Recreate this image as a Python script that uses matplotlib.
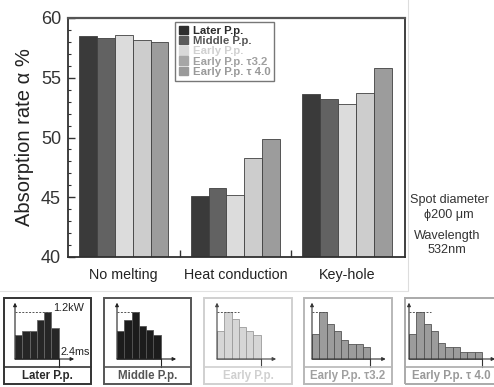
import matplotlib
matplotlib.use("Agg")
import matplotlib.pyplot as plt
from matplotlib.patches import Rectangle, Patch
from matplotlib.lines import Line2D
from matplotlib.ticker import MultipleLocator, FixedLocator
import numpy as np

plt.rcParams['font.family'] = ['Liberation Sans', 'DejaVu Sans']

# ---------------- data ----------------
categories = ["No melting", "Heat conduction", "Key-hole"]
series_names = ["Later P.p.", "Middle P.p.", "Early P.p.", "Early P.p. τ3.2", "Early P.p. τ 4.0"]
later = [58.5, 45.1, 53.6]
middle = [58.3, 45.8, 53.2]
early = [58.55, 45.2, 52.8]
tau32 = [58.2, 48.3, 53.75]
tau40 = [58.0, 49.9, 55.85]
yticks = [40, 45, 50, 55, 60]

# pulse shapes (kW per 0.4 ms step)
step_ms = 0.4
pulse_later = [0.61, 0.71, 0.71, 0.99, 1.2, 0.80]
pulse_middle = [0.71, 1.01, 1.2, 0.85, 0.74, 0.62]
pulse_early = [0.71, 1.2, 1.02, 0.82, 0.71, 0.62]
pulse_tau32 = [0.63, 1.2, 0.91, 0.73, 0.49, 0.38, 0.38, 0.31]
pulse_tau40 = [0.63, 1.2, 0.91, 0.71, 0.40, 0.32, 0.32, 0.19, 0.19, 0.19]
peak_kw = 1.2

W, H = 494, 387
fig = plt.figure(figsize=(W / 100, H / 100), dpi=100)


def fx(px):
    return px / W


def fy(py):
    return 1 - py / H


# ---------------- main chart ----------------
ax = fig.add_axes([fx(68), fy(257), fx(405) - fx(68), fy(18) - fy(257)])
series = [later, middle, early, tau32, tau40]
bar_colors = ["#3a3a3a", "#626262", "#dcdcdc", "#cdcdcd", "#9c9c9c"]
legend_colors = ["#2e2e2e", "#5a5a5a", "#d8d8d8", "#a6a6a6", "#9a9a9a"]
text_colors = ["#2a2a2a", "#555555", "#d0d0d0", "#a0a0a0", "#999999"]
x = np.arange(len(categories))
bw = 0.16
for i, (vals, c) in enumerate(zip(series, bar_colors)):
    ax.bar(x + (i - 2) * bw, vals, width=bw, color=c, edgecolor="#404040",
           linewidth=0.6, zorder=2)

ax.set_ylim(40, 60)
ax.set_xlim(-0.5, 2.52)
ax.set_yticks(yticks)
ax.yaxis.set_minor_locator(MultipleLocator(1))
ax.set_xticks(x)
ax.set_xticklabels(categories, fontsize=10.3, color="#222222")
ax.xaxis.set_minor_locator(FixedLocator([0.5, 1.5]))
ax.tick_params(axis='x', which='major', length=0, pad=8)
ax.tick_params(axis='x', which='minor', direction='in', length=5, width=1, color="#333333")
ax.tick_params(axis='y', which='major', direction='in', length=5, width=1,
               labelsize=13, colors="#333333", labelcolor="#333333", pad=5)
ax.tick_params(axis='y', which='minor', direction='in', length=2.5, width=0.8, color="#333333")
ax.set_ylabel("Absorption rate α %", fontsize=14.5, color="#222222", labelpad=5)
for s in ax.spines.values():
    s.set_linewidth(1.3)
    s.set_color("#303030")
ax.spines['top'].set_color("#555555")
ax.spines['top'].set_linewidth(1.6)

handles = [Patch(facecolor=c, edgecolor=c) for c in legend_colors]
leg = ax.legend(handles, series_names, loc='upper left',
                bbox_to_anchor=((175 - 68) / 337, 1 - (22 - 18) / 239),
                frameon=True, fancybox=False, edgecolor="#555555",
                handlelength=0.75, handleheight=0.75, handletextpad=0.45,
                labelspacing=0.0, borderpad=0.35, borderaxespad=0,
                prop={'weight': 'bold', 'size': 8.2})
leg.get_frame().set_linewidth(1.0)
for t, c in zip(leg.get_texts(), text_colors):
    t.set_color(c)

# right-side notes
fig.text(fx(449), fy(200), "Spot diameter", ha='center', va='center', fontsize=9.1, color="#333333")
fig.text(fx(449), fy(215), "ϕ200 μm", ha='center', va='center', fontsize=9.1, color="#333333")
fig.text(fx(447), fy(236), "Wavelength", ha='center', va='center', fontsize=9.1, color="#333333")
fig.text(fx(447), fy(250), "532nm", ha='center', va='center', fontsize=9.1, color="#333333")

# separator lines
fig.add_artist(Line2D([fx(408), fx(408)], [fy(0), fy(290)], color="#dddddd", lw=0.8))
fig.add_artist(Line2D([fx(0), fx(408)], [fy(291), fy(291)], color="#e2e2e2", lw=0.8))

# ---------------- pulse insets ----------------
pulses = [pulse_later, pulse_middle, pulse_early, pulse_tau32, pulse_tau40]
box_x0 = [4, 104, 204, 304, 405]
box_x1 = [91, 191, 292, 392, 497]
origin_x = [15, 117, 217, 312, 409]
label_cx = [47.5, 147.5, 248, 348, 451]
box_top, strip_top, box_bot, base_y = 298, 367, 384, 359
px_per_ms = 18.2
px_per_kw = 38.9
frame_colors = ["#333333", "#555555", "#d0d0d0", "#b8b8b8", "#aaaaaa"]
pulse_face = ["#262626", "#1c1c1c", "#d6d6d6", "#9c9c9c", "#9c9c9c"]
pulse_edge = ["#666666", "#555555", "#9a9a9a", "#555555", "#555555"]
axis_colors = ["#222222", "#222222", "#444444", "#333333", "#333333"]
dash_end = [2.0, 1.2, 1.2, 0.8, 1.2]

for k, prof in enumerate(pulses):
    x0, x1, ox = box_x0[k], box_x1[k], origin_x[k]
    # frame & label strip
    fig.add_artist(Rectangle((fx(x0), fy(box_bot)), fx(x1) - fx(x0), fy(box_top) - fy(box_bot),
                             transform=fig.transFigure, fill=False,
                             edgecolor=frame_colors[k], lw=1.4))
    fig.add_artist(Line2D([fx(x0), fx(x1)], [fy(strip_top), fy(strip_top)],
                          color=frame_colors[k], lw=1.2))
    fig.text(fx(label_cx[k]), fy((strip_top + box_bot) / 2 + 0.5), series_names[k],
             ha='center', va='center', fontsize=8.3, fontweight='bold', color=text_colors[k])

    iax = fig.add_axes([fx(x0), fy(strip_top), fx(x1) - fx(x0), fy(box_top) - fy(strip_top)])
    iax.set_xlim((x0 - ox) / px_per_ms, (x1 - ox) / px_per_ms)
    iax.set_ylim((base_y - strip_top) / px_per_kw, (base_y - box_top) / px_per_kw)
    iax.axis('off')
    t = np.arange(len(prof)) * step_ms
    iax.bar(t, prof, width=step_ms, align='edge', color=pulse_face[k],
            edgecolor=pulse_edge[k], linewidth=0.6, zorder=2)
    end = len(prof) * step_ms
    xmax = (x1 - ox) / px_per_ms
    ymax = (base_y - box_top) / px_per_kw
    ac = axis_colors[k]
    iax.annotate("", xy=(0, ymax - 0.12), xytext=(0, 0),
                 arrowprops=dict(arrowstyle='-|>', color=ac, lw=0.8, mutation_scale=5,
                                 shrinkA=0, shrinkB=0), zorder=3)
    iax.annotate("", xy=(min(end + 0.85, xmax - 0.1), 0), xytext=(0, 0),
                 arrowprops=dict(arrowstyle='-|>', color=ac, lw=0.8, mutation_scale=5,
                                 shrinkA=0, shrinkB=0), zorder=3)
    iax.plot([end, end], [0, (base_y - strip_top) / px_per_kw], color=ac, lw=0.8, clip_on=False)
    iax.plot([0, dash_end[k]], [peak_kw, peak_kw], color="#555555", lw=0.7,
             linestyle=(0, (2, 1.5)), zorder=3)
    if k == 0:
        iax.text(dash_end[k] + 0.1, peak_kw + 0.1, "1.2kW", fontsize=7.8, color="#222222",
                 ha='left', va='center')
        iax.text(end + 0.1, 0.18, "2.4ms", fontsize=7.8, color="#222222", ha='left', va='center')

fig.savefig("out.png", dpi=100)
